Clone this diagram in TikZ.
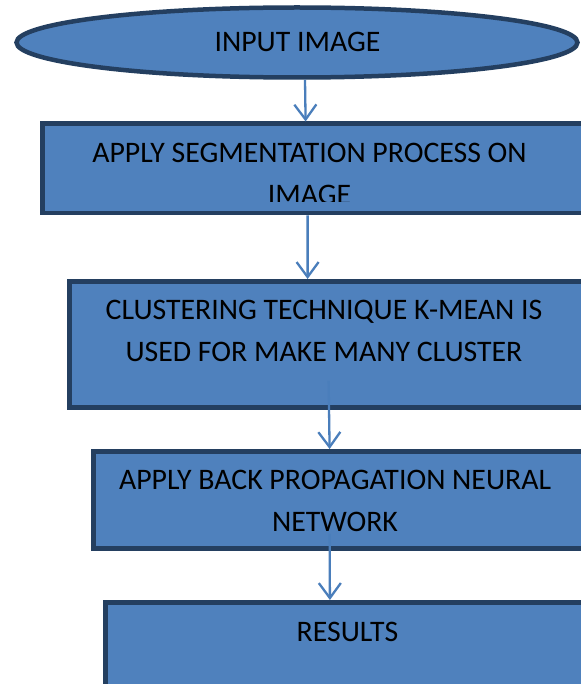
\documentclass[tikz,border=0pt]{standalone}
\usepackage{fontspec}
\setmainfont{Carlito}
\usetikzlibrary{arrows.meta,shapes.geometric,calc}
\definecolor{fillblue}{HTML}{4F81BD}
\definecolor{edgeblue}{HTML}{243F60}
\definecolor{arrowblue}{HTML}{4A7EBB}
\begin{document}
\begin{tikzpicture}[x=1bp,y=-1bp,
  box/.style={draw=edgeblue, fill=fillblue, line width=4.8bp, rectangle, inner sep=0pt, anchor=north west},
  oval/.style={draw=edgeblue, fill=fillblue, line width=4.5bp, ellipse, inner sep=0pt},
  lbl/.style={font=\fontsize{29.8bp}{41.5bp}\selectfont, align=center, inner sep=0pt, anchor=base, text=black},
  arr/.style={draw=arrowblue, line width=2.3bp, -{Straight Barb[length=15bp,width=22bp,line width=2.3bp]}}]
\useasboundingbox (0,0) rectangle (581,684);
\clip (0,0) rectangle (581,684);
\fill[white] (0,0) rectangle (581,684);
% shapes
\node[oval, minimum width=561bp, minimum height=70bp] (in) at (297,42.5) {};
\node[box, minimum width=543bp, minimum height=89bp] (b1) at (39.7,121.5) {};
\node[box, minimum width=519bp, minimum height=126bp] (b2) at (66.7,279) {};
\node[box, minimum width=493bp, minimum height=97bp] (b3) at (90.7,449) {};
\node[box, minimum width=491bp, minimum height=100bp] (b4) at (103,600) {};
% texts (anchor at baseline of the last line)
\node[lbl] (tin) at (297.5,52) {INPUT IMAGE};
\begin{scope}
\clip (0,0) rectangle (581,201);
\node[lbl] (t1) at (309.5,204) {APPLY SEGMENTATION PROCESS ON\\IMAGE};
\end{scope}
\node[lbl] (t2) at (324,361) {CLUSTERING TECHNIQUE K-MEAN IS\\USED FOR MAKE MANY CLUSTER};
\node[lbl] (t3) at (335,531) {APPLY BACK PROPAGATION NEURAL\\NETWORK};
\node[lbl] (t4) at (347.5,641) {RESULTS};
% connectors
\draw[arr] ([xshift=8bp]in.south) -- ([xshift=-8bp]b1.north);
\draw[arr] ([xshift=-6bp]b1.south) -- ([xshift=-21bp]b2.north);
\draw[arr] ([yshift=29bp]b2.south) -- ([xshift=-10bp]b3.north);
\draw[arr] ([xshift=-10bp,yshift=17bp]b3.south) -- ([xshift=-21bp]b4.north);
\end{tikzpicture}
\end{document}
